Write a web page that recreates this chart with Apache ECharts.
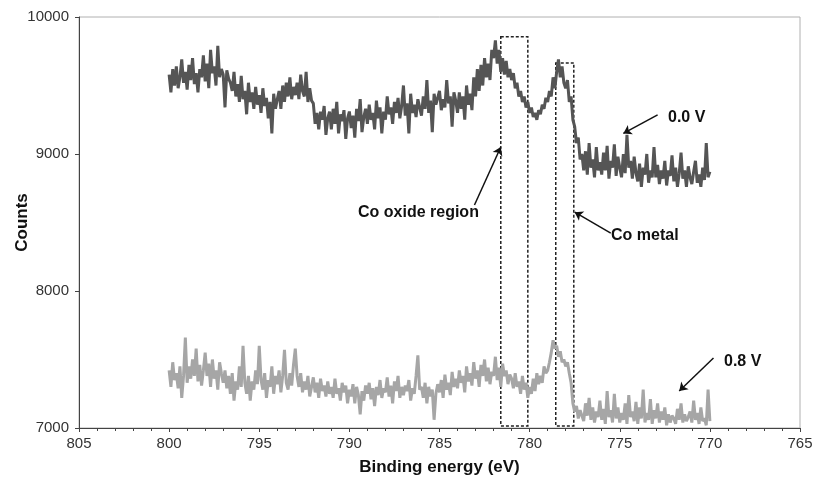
<!DOCTYPE html>
<html>
<head>
<meta charset="utf-8">
<script src="https://cdn.jsdelivr.net/npm/echarts@6/dist/echarts.min.js"></script>
<style>
html, body { margin: 0; padding: 0; background: #fff; }
#main { width: 813px; height: 482px; }
</style>
</head>
<body>
<div id="main"></div>
<script>
// energies run from 800.0 down to 770.0 eV in 0.1 eV steps
var eStart = 800, eStep = 0.1;

// 0.0 V spectrum (one row per eV)
var counts00 = [
  9580, 9450, 9620, 9500, 9640, 9480, 9560, 9690, 9520, 9600,
  9470, 9650, 9540, 9700, 9510, 9590, 9450, 9620, 9560, 9720,
  9530, 9660, 9480, 9760, 9590, 9640, 9500, 9790, 9560, 9620,
  9580, 9340, 9610, 9550, 9520, 9460, 9600, 9420, 9510, 9380,
  9570, 9400, 9460, 9290, 9520, 9380, 9450, 9330, 9490, 9360,
  9430, 9300, 9480, 9350, 9410, 9260, 9380, 9150, 9440, 9330,
  9400, 9460, 9330, 9500, 9380, 9520, 9420, 9560, 9400, 9490,
  9430, 9520, 9400, 9580, 9460, 9420, 9600, 9380, 9480, 9390,
  9370, 9220, 9300, 9180, 9310, 9250, 9350, 9140, 9260, 9310,
  9180, 9330, 9220, 9380, 9150, 9290, 9240, 9320, 9110, 9260,
  9310, 9190, 9280, 9120, 9330, 9240, 9400, 9160, 9270, 9330,
  9220, 9360, 9250, 9300, 9180, 9390, 9260, 9340, 9150, 9310,
  9250, 9420, 9290, 9340, 9220, 9380, 9300, 9410, 9260, 9350,
  9500, 9280, 9370, 9150, 9440, 9300, 9360, 9270, 9400, 9340,
  9280, 9420, 9330, 9540, 9300, 9390, 9160, 9440, 9360, 9410,
  9460, 9320, 9400, 9340, 9540, 9370, 9420, 9200, 9450, 9390,
  9300, 9450, 9330, 9420, 9250, 9500, 9360, 9440, 9320, 9560,
  9420, 9620, 9460, 9650, 9500, 9700, 9560, 9660, 9540, 9760,
  9700, 9830, 9660, 9760, 9600, 9700, 9580, 9680, 9560, 9620,
  9540, 9590, 9480, 9520, 9420, 9460, 9380, 9420, 9340, 9380,
  9300, 9340, 9270, 9300, 9250, 9320, 9290, 9360, 9330, 9410,
  9380, 9460, 9420, 9560, 9480, 9600, 9690, 9560, 9640, 9520,
  9480, 9540, 9380, 9420, 9250, 9200, 9080, 9120, 8960, 9000,
  8880, 9020, 8850, 9080, 8900, 8960, 8830, 9050, 8880, 8940,
  8850, 9010, 8880, 9060, 8820, 8950, 8900, 9070, 8840, 8980,
  8900, 8830, 9000, 8860, 9140, 8900, 8950, 8820, 8980, 8860,
  8800, 8930, 8760, 8900, 8850, 9000, 8790, 8880, 8830, 9050,
  8830, 8920, 8780, 8880, 8820, 8950, 8770, 8880, 8840, 8990,
  8800, 8900, 8760, 8860, 9010, 8820, 8880, 8760, 8910, 8830,
  8780, 8870, 8950, 8790, 8850, 8760, 8900, 8810, 9080, 8830,
  8870
];

// 0.8 V spectrum
var counts08 = [
  7420, 7300, 7480, 7350, 7400, 7290, 7450, 7220, 7380, 7660,
  7330, 7450, 7360, 7500, 7380, 7580, 7340, 7460, 7310, 7420,
  7550, 7380, 7470, 7300, 7500, 7360, 7420, 7280, 7480, 7400,
  7330, 7420, 7290, 7380, 7250, 7400, 7200, 7340, 7280, 7450,
  7300, 7600, 7330, 7250, 7380, 7200, 7340, 7280, 7420, 7320,
  7600, 7350, 7280, 7400, 7220, 7350, 7300, 7450, 7250, 7380,
  7320, 7420, 7260, 7380, 7570, 7330, 7280, 7400, 7310, 7460,
  7580, 7380, 7300, 7400, 7260, 7340, 7280, 7380, 7230, 7300,
  7370, 7260, 7330, 7220, 7360, 7270, 7310, 7230, 7340, 7250,
  7300, 7220, 7360, 7250, 7290, 7200, 7330, 7260, 7310, 7180,
  7280, 7230, 7320, 7180, 7300, 7240, 7100, 7270, 7200, 7310,
  7250, 7330, 7210, 7290, 7160, 7300, 7240, 7350, 7220, 7290,
  7260, 7370, 7230, 7310, 7180, 7340, 7270, 7380, 7220, 7300,
  7240, 7310, 7270, 7350, 7200, 7290, 7250, 7380, 7530, 7280,
  7300, 7220, 7330, 7180, 7300, 7230, 7280, 7060, 7250, 7320,
  7260, 7350, 7220, 7390, 7280, 7330, 7240, 7410, 7300, 7360,
  7290, 7420, 7330, 7380, 7260, 7450, 7340, 7400, 7310, 7480,
  7360, 7420, 7300, 7460, 7380, 7500, 7340, 7440, 7320, 7410,
  7380, 7520, 7350, 7440, 7300, 7470, 7380, 7420, 7320, 7390,
  7360, 7290, 7400, 7300, 7340, 7250, 7380, 7280, 7330, 7220,
  7300, 7250, 7360, 7270, 7400, 7320, 7380, 7330, 7450, 7400,
  7420, 7480, 7550, 7640, 7580, 7600, 7520, 7560, 7480, 7500,
  7450, 7480, 7400, 7330, 7180, 7120, 7160, 7070, 7130, 7090,
  7050, 7180, 7090, 7220, 7060, 7150, 7040, 7120, 7080, 7200,
  7060, 7140, 7030, 7270, 7080, 7130, 7040, 7250, 7070, 7150,
  7040, 7110, 7060, 7180, 7030, 7240, 7080, 7120, 7050, 7190,
  7030, 7150, 7070, 7280, 7040, 7110, 7060, 7210, 7030, 7130,
  7070, 7180, 7040, 7120, 7060, 7150, 7020, 7100, 7040, 7090,
  7070, 7030, 7140, 7060, 7180, 7040, 7100, 7050, 7080, 7120,
  7040, 7200, 7060, 7110, 7030, 7150, 7050, 7070, 7020, 7280,
  7050
];

var xTicks = [805, 800, 795, 790, 785, 780, 775, 770, 765];
var yTicks = [7000, 8000, 9000, 10000];

function pairs(vals) {
  return vals.map(function (v, i) {
    return [+(eStart - i * eStep).toFixed(1), v];
  });
}

var labelFont = { fontFamily: 'Liberation Sans', fontSize: 15, color: '#333' };
var noteStyle = { fontFamily: 'Liberation Sans', fontSize: 16, fontWeight: 'bold', fill: '#111' };

var myChart = echarts.init(document.getElementById('main'));

var option = {
  animation: false,
  grid: {
    left: 79, right: 13, top: 17, bottom: 54,
    containLabel: false,
    outerBoundsMode: 'none',
    show: true, borderColor: '#b0b0b0', borderWidth: 1
  },
  xAxis: {
    type: 'value',
    inverse: true,
    min: xTicks[xTicks.length - 1],
    max: xTicks[0],
    interval: 5,
    name: 'Binding energy (eV)',
    nameLocation: 'middle',
    nameGap: 31,
    nameMoveOverlap: false,
    nameTextStyle: { fontFamily: 'Liberation Sans', fontSize: 17, fontWeight: 'bold', color: '#111' },
    axisLine: { lineStyle: { color: '#444', width: 1 } },
    axisTick: { length: 4, lineStyle: { color: '#444' } },
    minorTick: { show: true, splitNumber: 5, length: 3, lineStyle: { color: '#444' } },
    axisLabel: Object.assign({ margin: 8 }, labelFont),
    splitLine: { show: false }
  },
  yAxis: {
    type: 'value',
    min: yTicks[0],
    max: yTicks[yTicks.length - 1],
    interval: 1000,
    name: 'Counts',
    nameLocation: 'middle',
    nameGap: 48,
    nameMoveOverlap: false,
    nameTextStyle: { fontFamily: 'Liberation Sans', fontSize: 17, fontWeight: 'bold', color: '#111' },
    axisLine: { show: true, lineStyle: { color: '#444', width: 1 } },
    axisTick: { show: true, length: 4, lineStyle: { color: '#444' } },
    axisLabel: Object.assign({ margin: 10, formatter: function (v) { return String(v); } }, labelFont),
    splitLine: { show: false }
  },
  series: [
    {
      name: '0.0 V',
      type: 'line',
      data: pairs(counts00),
      showSymbol: false,
      lineStyle: { color: '#555555', width: 3 },
      markLine: {
        silent: true,
        symbol: ['none', 'arrow'],
        symbolSize: 8,
        label: { show: false },
        lineStyle: { color: '#111', width: 1.5, type: 'solid' },
        data: [
          [{ coord: [772.9, 9285] }, { coord: [774.8, 9150] }],
          [{ coord: [783.06, 8628] }, { coord: [781.6, 9051] }],
          [{ coord: [775.5, 8423] }, { coord: [777.5, 8575] }],
          [{ coord: [769.8, 7511] }, { coord: [771.7, 7270] }]
        ]
      },
      markArea: {
        silent: true,
        itemStyle: { color: 'rgba(0,0,0,0)', borderColor: '#222', borderWidth: 1.5, borderType: [3, 2] },
        data: [
          [{ coord: [781.6, 9855] }, { coord: [780.1, 7015] }],
          [{ coord: [778.55, 9665] }, { coord: [777.55, 7015] }]
        ]
      }
    },
    {
      name: '0.8 V',
      type: 'line',
      data: pairs(counts08),
      showSymbol: false,
      lineStyle: { color: '#a6a6a6', width: 3 }
    }
  ],
  graphic: [
    { type: 'text', left: 668, top: 110, style: Object.assign({ text: '0.0 V' }, noteStyle) },
    { type: 'text', left: 358, top: 205, style: Object.assign({ text: 'Co oxide region' }, noteStyle) },
    { type: 'text', left: 611, top: 228, style: Object.assign({ text: 'Co metal' }, noteStyle) },
    { type: 'text', left: 724, top: 354, style: Object.assign({ text: '0.8 V' }, noteStyle) }
  ]
};

myChart.setOption(option);
</script>
</body>
</html>
